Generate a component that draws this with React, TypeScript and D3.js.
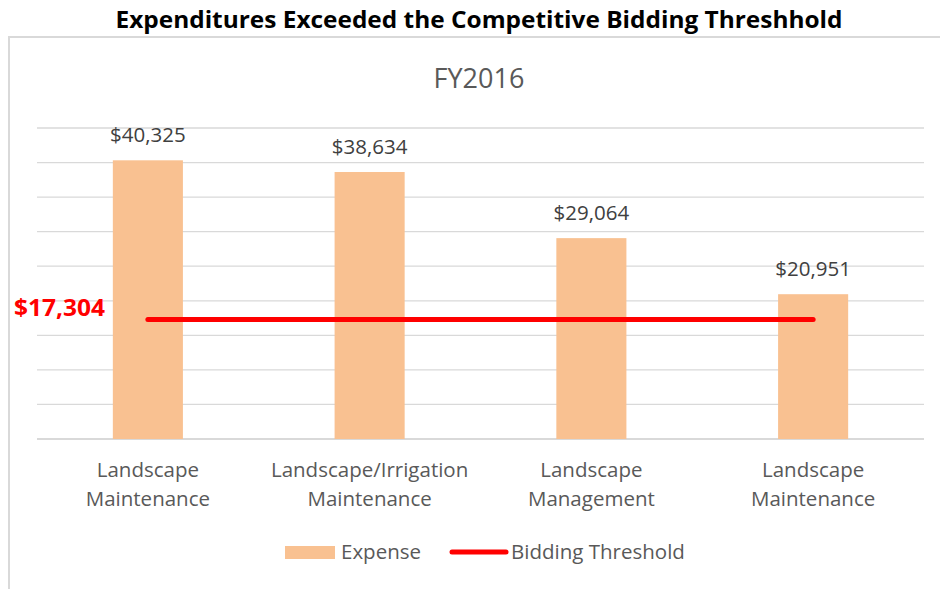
import React, { useEffect } from 'react';
import * as d3 from 'd3';

// Chart data
const categories = ['Landscape|Maintenance', 'Landscape/Irrigation|Maintenance', 'Landscape|Management', 'Landscape |Maintenance'];
const expense = [40325, 38634, 29064, 20951];
const threshold = 17304;
const gridTicks = [0, 5000, 10000, 15000, 20000, 25000, 30000, 35000, 40000, 45000];

const W = 940;
const H = 589;
const FONT = "'Open Sans', 'Noto Sans', sans-serif";
const GRAY = '#595959';
const BAR = '#F9C191';

const App: React.FC = () => {
  useEffect(() => {
    document.body.style.margin = '0';
  }, []);

  const x = d3.scaleBand<string>().domain(categories).range([37, 924]).paddingInner(0.684).paddingOuter(0.342);
  const y = d3.scaleLinear().domain([0, 45000]).range([439, 128]);
  const fmt = (v: number) => '$' + d3.format(',')(v);

  const first = categories[0];
  const last = categories[categories.length - 1];
  const lineX1 = (x(first) || 0) + x.bandwidth() / 2;
  const lineX2 = (x(last) || 0) + x.bandwidth() / 2;

  return (
    <svg width={W} height={H} style={{ display: 'block', background: '#fff' }}>
      {/* outer chart border */}
      <rect x={9} y={37} width={W + 10} height={H + 10} fill="#fff" stroke="#d9d9d9" strokeWidth={2} />
      <text x={479} y={28} textAnchor="middle" fontFamily={FONT} fontWeight="bold" fontSize={23} fill="#000" textLength={727} lengthAdjust="spacingAndGlyphs">
        Expenditures Exceeded the Competitive Bidding Threshhold
      </text>
      <text x={479} y={88} textAnchor="middle" fontFamily={FONT} fontSize={27} fill={GRAY}>FY2016</text>

      {/* gridlines */}
      {gridTicks.map(t => (
        <line key={t} x1={37} x2={924} y1={y(t)} y2={y(t)} stroke="#d9d9d9" strokeWidth={t === 0 ? 2 : 1.3} />
      ))}

      {/* bars */}
      {categories.map((c, i) => (
        <g key={c}>
          <rect x={x(c)} y={y(expense[i])} width={x.bandwidth()} height={y(0) - y(expense[i])} fill={BAR} />
          <text x={(x(c) || 0) + x.bandwidth() / 2} y={y(expense[i]) - 18} textAnchor="middle" fontFamily={FONT} fontSize={20.5} fill="#404040">
            {fmt(expense[i])}
          </text>
          {c.split('|').map((part, j) => (
            <text key={j} x={(x(c) || 0) + x.bandwidth() / 2} y={477 + j * 29} textAnchor="middle" fontFamily={FONT} fontSize={20.5} fill={GRAY}>
              {part.trim()}
            </text>
          ))}
        </g>
      ))}

      {/* threshold line */}
      <line x1={lineX1} x2={lineX2} y1={y(threshold)} y2={y(threshold)} stroke="#FF0000" strokeWidth={5} strokeLinecap="round" />
      <text x={14} y={316} fontFamily={FONT} fontWeight="bold" fontSize={23} fill="#FF0000" textLength={91} lengthAdjust="spacingAndGlyphs">{fmt(threshold)}</text>

      {/* legend */}
      <rect x={285} y={546} width={50} height={13} fill={BAR} />
      <text x={341} y={559} fontFamily={FONT} fontSize={20.5} fill={GRAY}>Expense</text>
      <line x1={452} x2={506} y1={552} y2={552} stroke="#FF0000" strokeWidth={5} strokeLinecap="round" />
      <text x={511} y={559} fontFamily={FONT} fontSize={20.5} fill={GRAY}>Bidding Threshold</text>
    </svg>
  );
};

export default App;
